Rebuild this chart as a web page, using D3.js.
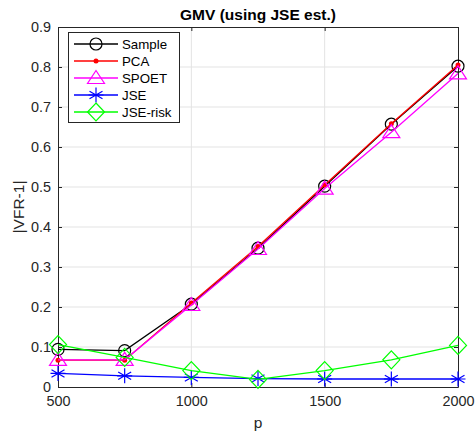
<!DOCTYPE html>
<html>
<head>
<meta charset="utf-8">
<script src="https://cdn.jsdelivr.net/npm/d3@7"></script>
<style>
body { margin: 0; background: #fff; }
text { font-family: "Liberation Sans", Arial, sans-serif; }
</style>
</head>
<body>
<div id="chart"></div>
<script>
// data
var pValues = [500, 750, 1000, 1250, 1500, 1750, 2000];
var sample  = [0.094, 0.091, 0.207, 0.347, 0.502, 0.657, 0.802];
var pca     = [0.067, 0.067, 0.210, 0.351, 0.505, 0.658, 0.805];
var spoet   = [0.068, 0.068, 0.205, 0.345, 0.496, 0.637, 0.784];
var jse     = [0.034, 0.028, 0.024, 0.021, 0.020, 0.020, 0.020];
var jseRisk = [0.106, 0.074, 0.041, 0.019, 0.041, 0.068, 0.104];
var xTicks = [500, 1000, 1500, 2000];
var yTicks = [0, 0.1, 0.2, 0.3, 0.4, 0.5, 0.6, 0.7, 0.8, 0.9];

var series = [
    { name: "Sample",   values: sample,  color: "#000000", marker: "circle" },
    { name: "PCA",      values: pca,     color: "#ff0000", marker: "dot" },
    { name: "SPOET",    values: spoet,   color: "#ff00ff", marker: "triangle" },
    { name: "JSE",      values: jse,     color: "#0000ff", marker: "star" },
    { name: "JSE-risk", values: jseRisk, color: "#00ff00", marker: "diamond" }
];

var width = 476, height = 434;
var margin = { left: 58, right: 18, top: 27, bottom: 47 };

var svg = d3.select("#chart").append("svg")
    .attr("width", width)
    .attr("height", height);

var x = d3.scaleLinear().domain([500, 2000]).range([margin.left, width - margin.right]);
var y = d3.scaleLinear().domain([0, 0.9]).range([height - margin.bottom, margin.top]);

// grid
svg.append("g").selectAll("line")
    .data(yTicks.slice(1, -1))
    .enter().append("line")
    .attr("x1", x(500)).attr("x2", x(2000))
    .attr("y1", function (d) { return y(d); })
    .attr("y2", function (d) { return y(d); })
    .attr("stroke", "#e3e3e3");
svg.append("g").selectAll("line")
    .data(xTicks.slice(1, -1))
    .enter().append("line")
    .attr("y1", y(0)).attr("y2", y(0.9))
    .attr("x1", function (d) { return x(d); })
    .attr("x2", function (d) { return x(d); })
    .attr("stroke", "#e3e3e3");

// axes (ticks inside, matlab style)
var xAxis = svg.append("g")
    .attr("transform", "translate(0," + y(0) + ")")
    .call(d3.axisBottom(x).tickValues(xTicks).tickFormat(d3.format("d"))
        .tickSizeInner(-4).tickSizeOuter(0).tickPadding(9));
var yAxis = svg.append("g")
    .attr("transform", "translate(" + x(500) + ",0)")
    .call(d3.axisLeft(y).tickValues(yTicks).tickFormat(function (d) { return d === 0 ? "0" : d3.format(".1f")(d); })
        .tickSizeInner(-4).tickSizeOuter(0).tickPadding(7));
var xTop = svg.append("g")
    .attr("transform", "translate(0," + y(0.9) + ")")
    .call(d3.axisTop(x).tickValues(xTicks).tickSizeInner(-4).tickSizeOuter(0).tickFormat(""));
var yRight = svg.append("g")
    .attr("transform", "translate(" + x(2000) + ",0)")
    .call(d3.axisRight(y).tickValues(yTicks).tickSizeInner(-4).tickSizeOuter(0).tickFormat(""));

[xAxis, yAxis, xTop, yRight].forEach(function (g) {
    g.select(".domain").attr("stroke", "#262626");
    g.selectAll(".tick line").attr("stroke", "#262626");
    g.selectAll("text").attr("font-size", 14.4).attr("fill", "#262626")
        .style("font-family", "'Liberation Sans', Arial, sans-serif");
});

// markers
function drawMarker(g, type, color, cx, cy) {
    if (type == "circle") {
        g.append("circle").attr("cx", cx).attr("cy", cy).attr("r", 6)
            .attr("fill", "none").attr("stroke", color).attr("stroke-width", 1.2);
    } else if (type == "dot") {
        g.append("circle").attr("cx", cx).attr("cy", cy).attr("r", 2.5)
            .attr("fill", color);
    } else if (type == "triangle") {
        g.append("path")
            .attr("d", "M" + cx + "," + (cy - 7.5) + "L" + (cx + 8.5) + "," + (cy + 5.5) +
                "L" + (cx - 8.5) + "," + (cy + 5.5) + "Z")
            .attr("fill", "none").attr("stroke", color).attr("stroke-width", 1.2);
    } else if (type == "star") {
        var r = 7.5, d = "";
        [0, 60, 120].forEach(function (a) {
            var t = (a + 90) * Math.PI / 180;
            d += "M" + (cx + r * Math.cos(t)) + "," + (cy + r * Math.sin(t)) +
                "L" + (cx - r * Math.cos(t)) + "," + (cy - r * Math.sin(t));
        });
        d += "M" + (cx - r) + "," + cy + "L" + (cx + r) + "," + cy;
        g.append("path").attr("d", d).attr("stroke", color).attr("stroke-width", 1.2);
    } else if (type == "diamond") {
        g.append("path")
            .attr("d", "M" + cx + "," + (cy - 9) + "L" + (cx + 8.5) + "," + cy +
                "L" + cx + "," + (cy + 9) + "L" + (cx - 8.5) + "," + cy + "Z")
            .attr("fill", "none").attr("stroke", color).attr("stroke-width", 1.2);
    }
}

var line = d3.line()
    .x(function (d, i) { return x(pValues[i]); })
    .y(function (d) { return y(d); });

series.forEach(function (s) {
    var g = svg.append("g");
    g.append("path")
        .attr("d", line(s.values))
        .attr("fill", "none")
        .attr("stroke", s.color)
        .attr("stroke-width", 1.3);
    s.values.forEach(function (v, i) {
        drawMarker(g, s.marker, s.color, x(pValues[i]), y(v));
    });
});

// legend
var legend = svg.append("g");
legend.append("rect")
    .attr("x", 68.5).attr("y", 32.5).attr("width", 111).attr("height", 90)
    .attr("fill", "#fff").attr("stroke", "#262626");
series.forEach(function (s, i) {
    var ly = 44 + i * 17;
    legend.append("line")
        .attr("x1", 74).attr("x2", 118).attr("y1", ly).attr("y2", ly)
        .attr("stroke", s.color).attr("stroke-width", 1.3);
    drawMarker(legend, s.marker, s.color, 96, ly);
    legend.append("text")
        .attr("x", 122).attr("y", ly + 5)
        .attr("font-size", 13.3).attr("fill", "#000")
        .text(s.name);
});

// titles
svg.append("text")
    .attr("x", (x(500) + x(2000)) / 2).attr("y", 20)
    .attr("text-anchor", "middle")
    .attr("font-size", 15.5).attr("font-weight", "bold")
    .text("GMV (using JSE est.)");
svg.append("text")
    .attr("x", (x(500) + x(2000)) / 2).attr("y", 428)
    .attr("text-anchor", "middle")
    .attr("font-size", 15.5).attr("fill", "#262626")
    .text("p");
svg.append("text")
    .attr("transform", "translate(24," + ((y(0) + y(0.9)) / 2) + ") rotate(-90)")
    .attr("text-anchor", "middle")
    .attr("font-size", 15.5).attr("fill", "#262626")
    .text("|VFR-1|");
</script>
</body>
</html>
